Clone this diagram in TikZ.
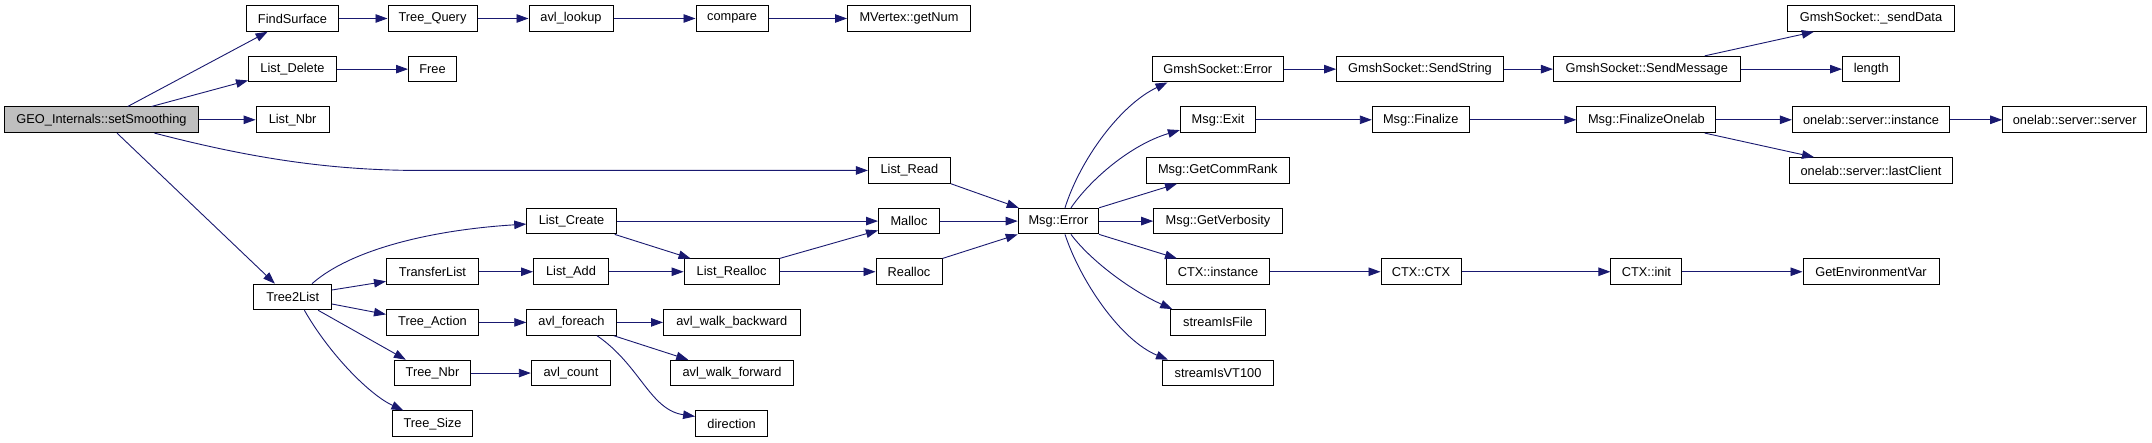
\documentclass[tikz,border=0pt]{standalone}
\usepackage{fontspec}
\setmainfont{Liberation Sans}
\usetikzlibrary{arrows.meta}
\definecolor{edgec}{HTML}{191970}
\definecolor{rootfill}{HTML}{BFBFBF}
\tikzset{
  box/.style={draw=black, line width=1pt, minimum height=25.6, inner sep=0pt, fill=white,
              font=\fontsize{12.8}{15}\selectfont, text=black},
  e/.style={draw=edgec, line width=0.9pt, -{Triangle[length=12pt,width=8.5pt]}}
}
\begin{document}
\begin{tikzpicture}[x=1pt,y=-1pt]
\useasboundingbox[fill=white] (0,0) rectangle (2152,443);
% rows
\def\ra{18.5}\def\rb{69.15}\def\rc{119.8}\def\rd{170.45}\def\re{221.1}
\def\rf{271.75}\def\rg{322.4}\def\rh{373.05}\def\ri{423.7}
% nodes
\node[box, minimum width=194, fill=rootfill] (geo) at (101.5,\rc) {GEO\_Internals::setSmoothing};
\node[box, minimum width=92] (fs) at (292.5,\ra) {FindSurface};
\node[box, minimum width=89] (tq) at (432.5,\ra) {Tree\_Query};
\node[box, minimum width=84] (avllookup) at (571,\ra) {avl\_lookup};
\node[box, minimum width=72] (compare) at (732,\ra) {compare};
\node[box, minimum width=123] (mvertex) at (909,\ra) {MVertex::getNum};
\node[box, minimum width=88] (listdelete) at (292.5,\rb) {List\_Delete};
\node[box, minimum width=48] (free) at (432.5,\rb) {Free};
\node[box, minimum width=73] (listnbr) at (292.6,\rc) {List\_Nbr};
\node[box, minimum width=82] (listread) at (909.4,\rd) {List\_Read};
\node[box, minimum width=89.5] (listcreate) at (571.5,\re) {List\_Create};
\node[box, minimum width=61] (malloc) at (909,\re) {Malloc};
\node[box, minimum width=80.4] (msgerror) at (1058.4,\re) {Msg::Error};
\node[box, minimum width=92] (transferlist) at (432.5,\rf) {TransferList};
\node[box, minimum width=75] (listadd) at (571,\rf) {List\_Add};
\node[box, minimum width=95] (listrealloc) at (731.6,\rf) {List\_Realloc};
\node[box, minimum width=66] (realloc) at (909,\rf) {Realloc};
\node[box, minimum width=77.5] (tree2list) at (292.7,297) {Tree2List};
\node[box, minimum width=92] (treeaction) at (432.5,\rg) {Tree\_Action};
\node[box, minimum width=89.5] (avlforeach) at (571.5,\rg) {avl\_foreach};
\node[box, minimum width=136.6] (walkback) at (731.8,\rg) {avl\_walk\_backward};
\node[box, minimum width=76.3] (treenbr) at (432.5,\rh) {Tree\_Nbr};
\node[box, minimum width=79.4] (avlcount) at (571,\rh) {avl\_count};
\node[box, minimum width=123.3] (walkfwd) at (732,\rh) {avl\_walk\_forward};
\node[box, minimum width=80] (treesize) at (432.5,\ri) {Tree\_Size};
\node[box, minimum width=72] (direction) at (731.6,\ri) {direction};
\node[box, minimum width=131] (gserror) at (1217.8,\rb) {GmshSocket::Error};
\node[box, minimum width=75.3] (msgexit) at (1218,\rc) {Msg::Exit};
\node[box, minimum width=143] (commrank) at (1217.8,\rd) {Msg::GetCommRank};
\node[box, minimum width=128.6] (verbosity) at (1218,\re) {Msg::GetVerbosity};
\node[box, minimum width=103] (ctxinstance) at (1218,\rf) {CTX::instance};
\node[box, minimum width=94.6] (streamfile) at (1218,\rg) {streamIsFile};
\node[box, minimum width=111] (streamvt) at (1218,\rh) {streamIsVT100};
\node[box, minimum width=166.7] (sendstring) at (1420,\rb) {GmshSocket::SendString};
\node[box, minimum width=96.8] (finalize) at (1420.7,\rc) {Msg::Finalize};
\node[box, minimum width=80] (ctxctx) at (1421,\rf) {CTX::CTX};
\node[box, minimum width=186.7] (sendmessage) at (1646.8,\rb) {GmshSocket::SendMessage};
\node[box, minimum width=139] (finalizeonelab) at (1646.4,\rc) {Msg::FinalizeOnelab};
\node[box, minimum width=71] (ctxinit) at (1646.4,\rf) {CTX::init};
\node[box, minimum width=166.7] (senddata) at (1871,\ra) {GmshSocket::\_sendData};
\node[box, minimum width=57.4] (length) at (1871.2,\rb) {length};
\node[box, minimum width=157.3] (olinstance) at (1871,\rc) {onelab::server::instance};
\node[box, minimum width=163] (lastclient) at (1871,\rd) {onelab::server::lastClient};
\node[box, minimum width=136] (getenv) at (1871,\rf) {GetEnvironmentVar};
\node[box, minimum width=144] (olserver) at (2074.7,\rc) {onelab::server::server};
% edges from root
\draw[e] ([xshift=26.2]geo.north) -- ([xshift=21.6]fs.south west);
\draw[e] ([xshift=50]geo.north) -- ([yshift=2]listdelete.south west);
\draw[e] (geo.east) -- (listnbr.west);
\draw[e] ([xshift=53]geo.south) .. controls (250,158) and (330,\rd) .. (420,\rd) -- (listread.west);
\draw[e] ([xshift=15.5]geo.south) -- ([xshift=21.5]tree2list.north west);
% chains
\draw[e] (fs.east) -- (tq.west);
\draw[e] (tq.east) -- (avllookup.west);
\draw[e] (avllookup.east) -- (compare.west);
\draw[e] (compare.east) -- (mvertex.west);
\draw[e] (listdelete.east) -- (free.west);
% Tree2List
\draw[e] ([xshift=19.3]tree2list.north) .. controls (350,250) and (430,230) .. ([yshift=-3]listcreate.west);
\draw[e] ([yshift=7]tree2list.east) -- ([yshift=3.7]transferlist.south west);
\draw[e] ([yshift=-7]tree2list.east) -- ([yshift=-5.3]treeaction.north west);
\draw[e] ([xshift=25.5]tree2list.south) -- ([xshift=12]treenbr.north west);
\draw[e] ([xshift=11.7]tree2list.south) .. controls (330,355) and (370,395) .. ([xshift=11.4]treesize.north west);
\draw[e] (listcreate.east) -- (malloc.west);
\draw[e] ([xshift=-2]listcreate.south east) -- ([xshift=7]listrealloc.north west);
\draw[e] (transferlist.east) -- (listadd.west);
\draw[e] (listadd.east) -- (listrealloc.west);
\draw[e] (treeaction.east) -- (avlforeach.west);
\draw[e] (avlforeach.east) -- (walkback.west);
\draw[e] ([xshift=-3]avlforeach.south east) -- ([xshift=18.4]walkfwd.north west);
\draw[e] ([xshift=25.5]avlforeach.south) .. controls (640,365) and (650,410) .. ([yshift=-6]direction.north west);
\draw[e] (treenbr.east) -- (avlcount.west);
% to Msg::Error
\draw[e] (listread.south east) -- ([xshift=1]msgerror.north west);
\draw[e] (malloc.east) -- (msgerror.west);
\draw[e] (listrealloc.north east) -- ([yshift=4]malloc.south west);
\draw[e] (listrealloc.east) -- (realloc.west);
\draw[e] (realloc.north east) -- (msgerror.south west);
% from Msg::Error
\draw[e] ([xshift=6.6]msgerror.north) .. controls (1080,160) and (1120,105) .. ([xshift=15.7]gserror.south west);
\draw[e] ([xshift=12.6]msgerror.north) .. controls (1090,180) and (1130,145) .. ([yshift=3]msgexit.south west);
\draw[e] (msgerror.north east) -- ([xshift=31.2]commrank.south west);
\draw[e] (msgerror.east) -- (verbosity.west);
\draw[e] (msgerror.south east) -- ([xshift=11]ctxinstance.north west);
\draw[e] ([xshift=12.6]msgerror.south) .. controls (1090,260) and (1130,290) .. ([xshift=2]streamfile.north west);
\draw[e] ([xshift=6.6]msgerror.south) .. controls (1080,280) and (1120,340) .. ([xshift=6]streamvt.north west);
% right part
\draw[e] (gserror.east) -- (sendstring.west);
\draw[e] (sendstring.east) -- (sendmessage.west);
\draw[e] ([xshift=58]sendmessage.north) -- ([xshift=26.7]senddata.south west);
\draw[e] (sendmessage.east) -- (length.west);
\draw[e] (msgexit.east) -- (finalize.west);
\draw[e] (finalize.east) -- (finalizeonelab.west);
\draw[e] (finalizeonelab.east) -- (olinstance.west);
\draw[e] (olinstance.east) -- (olserver.west);
\draw[e] ([xshift=58.4]finalizeonelab.south) -- ([xshift=25]lastclient.north west);
\draw[e] (ctxinstance.east) -- (ctxctx.west);
\draw[e] (ctxctx.east) -- (ctxinit.west);
\draw[e] (ctxinit.east) -- (getenv.west);
\end{tikzpicture}
\end{document}
